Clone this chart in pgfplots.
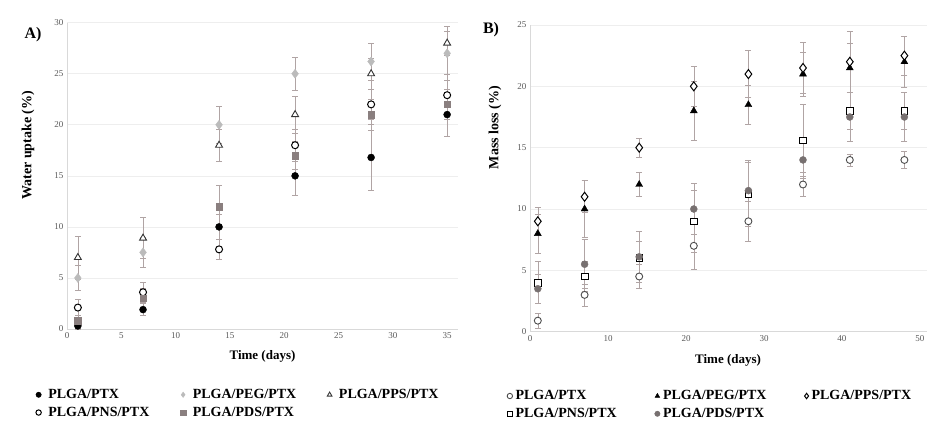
\documentclass[border=0pt]{standalone}
\usepackage{fontspec}
\setmainfont{Liberation Serif}
\usepackage{pgfplots}
\pgfplotsset{compat=1.18}
\definecolor{errc}{HTML}{B0A4A4}
\definecolor{gridc}{HTML}{EEEEEE}
\definecolor{axisc}{HTML}{D9D9D9}
\definecolor{tickc}{HTML}{595959}
\definecolor{pegA}{HTML}{BBBBBB}
\definecolor{pdsA}{HTML}{8A7F7F}
\definecolor{pdsB}{HTML}{777070}
\begin{document}
\begin{tikzpicture}
\path (0pt,0pt) rectangle (936pt,430pt);
\pgfplotsset{common/.style={
 scale only axis, anchor=south west,
 ymajorgrids, grid style={color=gridc, line width=0.6pt},
 axis x line*=bottom, axis y line*=left,
 axis line style={-, color=axisc, line width=0.6pt},
 major tick length=0pt,
 tick label style={font=\fontsize{9}{10}\selectfont, color=tickc},
 /pgf/number format/assume math mode=true,
 xlabel style={font=\bfseries\fontsize{13}{15}\selectfont},
 ylabel style={font=\bfseries\fontsize{14}{16}\selectfont},
 legend style={draw=none, fill=none, font=\bfseries\fontsize{14}{16}\selectfont, anchor=north west, inner sep=0pt, row sep=3pt, nodes={inner sep=2pt}},
 legend cell align=left,
 legend columns=3,
 legend image code/.code={\draw plot coordinates {(0pt,0pt)};},
 legend image post style={mark size=2.7pt},
 clip=false,
},
eb/.style={only marks, error bars/y dir=both, error bars/y explicit,
 error bars/error bar style={color=errc, line width=0.6pt},
 error bars/error mark options={color=errc, mark size=3pt, line width=0.6pt, rotate=90}}
}
% Panel A
\begin{axis}[common, at={(67pt,101pt)}, width=391pt, height=306.3pt,
 xmin=0, xmax=36, ymin=0, ymax=30,
 xtick={0,5,...,35}, ytick={0,5,...,30},
 xlabel={Time (days)}, ylabel={Water uptake (\%)},
 xlabel style={at={(axis description cs:0.5,-0.091)}, anchor=center},
 ylabel style={at={(axis description cs:-0.1,0.6)}, anchor=center},
 legend style={at={(axis description cs:-0.08,-0.19)},
  /tikz/every odd column/.append style={column sep=5pt},
  /tikz/every even column/.append style={column sep=29pt}},
]
\addplot[eb, mark=*, mark size=3.5pt, black] coordinates {
 (1,0.3) +- (0,0.3) (7,1.9) +- (0,0.6) (14,10) +- (0,1.2) (21,15) +- (0,1.9) (28,16.8) +- (0,3.2) (35,21) +- (0,2.1)};
\addlegendentry{PLGA/PTX}
\addplot[eb, mark=diamond*, mark size=4.5pt, color=pegA] coordinates {
 (1,5) +- (0,1.2) (7,7.5) +- (0,1.5) (14,20) +- (0,1.8) (21,25) +- (0,1.6) (28,26.2) +- (0,1.8) (35,27) +- (0,2.6)};
\addlegendentry{PLGA/PEG/PTX}
\addplot[eb, mark=triangle*, mark size=4pt, mark options={draw=black!80, fill=white, line width=0.9pt}] coordinates {
 (1,7) +- (0,2.1) (7,8.9) +- (0,2.0) (14,18) +- (0,1.6) (21,21) +- (0,1.8) (28,25) +- (0,1.5) (35,28) +- (0,1.2)};
\addlegendentry{PLGA/PPS/PTX}
\addplot[eb, mark=*, mark size=3.5pt, mark options={draw=black, fill=white, line width=1pt}] coordinates {
 (1,2.1) +- (0,0.8) (7,3.6) +- (0,1.0) (14,7.8) +- (0,1.0) (21,18) +- (0,1.6) (28,22) +- (0,1.5) (35,22.9) +- (0,2.0)};
\addlegendentry{PLGA/PNS/PTX}
\addplot[eb, mark=square*, mark size=3.3pt, color=pdsA] coordinates {
 (1,0.8) +- (0,0.5) (7,3.0) +- (0,1.0) (14,12) +- (0,2.1) (21,17) +- (0,1.4) (28,21) +- (0,1.5) (35,22) +- (0,1.5)};
\addlegendentry{PLGA/PDS/PTX}
\end{axis}
% Panel B
\begin{axis}[common, at={(530pt,98.3pt)}, width=397pt, height=306.7pt,
 xmin=0, xmax=50.9, ymin=0, ymax=25,
 xtick={0,10,...,50}, ytick={0,5,...,25},
 xlabel={Time (days)}, ylabel={Mass loss (\%)},
 xlabel style={at={(axis description cs:0.499,-0.092)}, anchor=center},
 ylabel style={at={(axis description cs:-0.088,0.666)}, anchor=center},
 legend style={at={(axis description cs:-0.058,-0.185)},
  /tikz/every odd column/.append style={column sep=1pt},
  /tikz/every even column/.append style={column sep=36pt}},
]
\addplot[eb, mark=*, mark size=3.5pt, mark options={draw=black!70, fill=white, line width=0.9pt}] coordinates {
 (1,0.9) +- (0,0.6) (7,3) +- (0,0.9) (14,4.5) +- (0,1.0) (21,7) +- (0,1.9) (28,9) +- (0,1.6) (35,12) +- (0,1.0) (41,14) +- (0,0.5) (48,14) +- (0,0.7)};
\addlegendentry{PLGA/PTX}
\addplot[eb, mark=triangle*, mark size=4pt, black] coordinates {
 (1,8) +- (0,1.6) (7,10) +- (0,2.3) (14,12) +- (0,1.0) (21,18) +- (0,2.4) (28,18.5) +- (0,1.6) (35,21) +- (0,1.8) (41,21.5) +- (0,2.0) (48,22) +- (0,2.1)};
\addlegendentry{PLGA/PEG/PTX}
\addplot[eb, mark=diamond*, mark size=4.5pt, mark options={draw=black, fill=white, line width=1pt}] coordinates {
 (1,9) +- (0,1.1) (7,11) +- (0,1.3) (14,15) +- (0,0.8) (21,20) +- (0,1.6) (28,21) +- (0,1.9) (35,21.5) +- (0,2.1) (41,22) +- (0,2.5) (48,22.5) +- (0,1.6)};
\addlegendentry{PLGA/PPS/PTX}
\addplot[eb, mark=square*, mark size=3.3pt, mark options={draw=black, fill=white, line width=0.8pt}] coordinates {
 (1,4) +- (0,1.7) (7,4.5) +- (0,1.2) (14,6) +- (0,1.4) (21,9) +- (0,2.5) (28,11.2) +- (0,2.6) (35,15.6) +- (0,2.9) (41,18) +- (0,1.5) (48,18) +- (0,1.5)};
\addlegendentry{PLGA/PNS/PTX}
\addplot[eb, mark=*, mark size=3.5pt, color=pdsB] coordinates {
 (1,3.5) +- (0,1.2) (7,5.5) +- (0,2.0) (14,6.1) +- (0,2.1) (21,10) +- (0,2.1) (28,11.5) +- (0,2.5) (35,14) +- (0,1.5) (41,17.5) +- (0,2.0) (48,17.5) +- (0,2.0)};
\addlegendentry{PLGA/PDS/PTX}
\end{axis}
\node[font=\bfseries\fontsize{16}{18}\selectfont] at (33pt,395pt) {A)};
\node[font=\bfseries\fontsize{16}{18}\selectfont] at (491pt,400pt) {B)};
\end{tikzpicture}
\end{document}
